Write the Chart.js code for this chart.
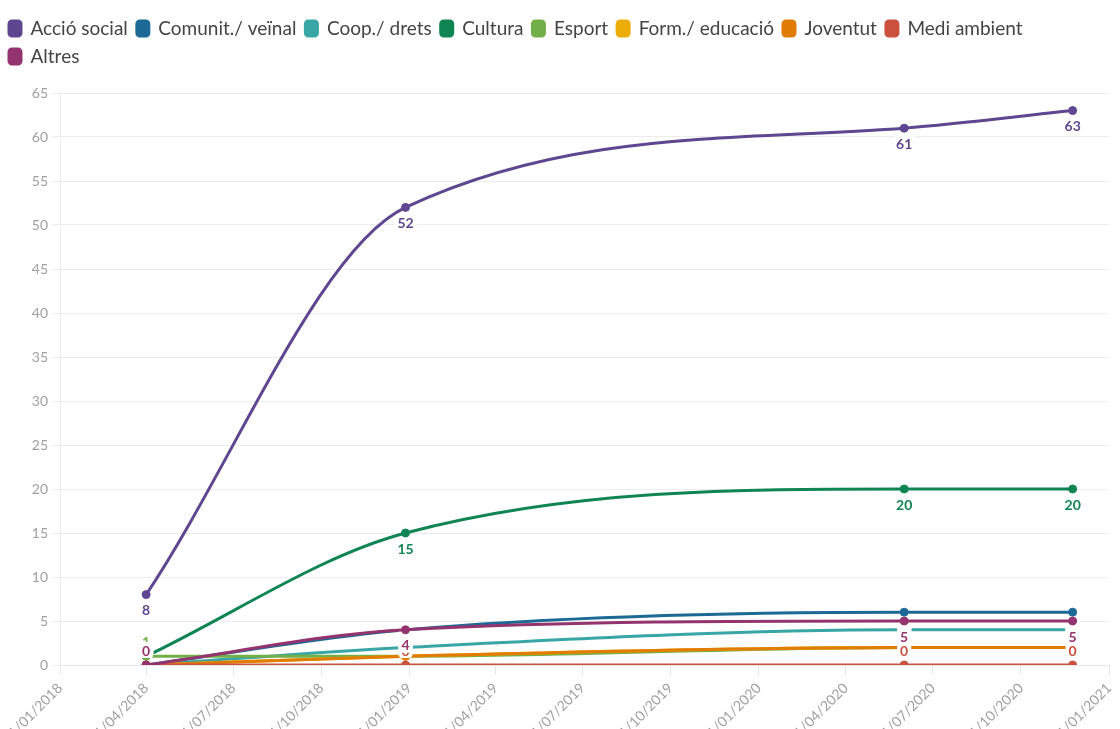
<!DOCTYPE html>
<html><head><meta charset="utf-8">
<script src="https://cdn.jsdelivr.net/npm/chart.js@4.4.1/dist/chart.umd.min.js"></script>
<style>html,body{margin:0;padding:0;background:#fff;overflow:hidden}#wrap{width:1120px;height:729px}</style>
</head><body><div id="wrap"><canvas id="c" width="1120" height="729"></canvas></div>
<script>
const dates = ['2018-04-01', '2018-12-28', '2020-06-01', '2020-11-24'];
const seriesNames = ['Acció social', 'Comunit./ veïnal', 'Coop./ drets', 'Cultura', 'Esport', 'Form./ educació', 'Joventut', 'Medi ambient', 'Altres'];
const accioSocial = [8, 52, 61, 63];
const comunitVeinal = [0, 4, 6, 6];
const coopDrets = [0, 2, 4, 4];
const cultura = [1, 15, 20, 20];
const esport = [1, 1, 2, 2];
const formEducacio = [0, 1, 2, 2];
const joventut = [0, 1, 2, 2];
const mediAmbient = [0, 0, 0, 0];
const altres = [0, 4, 5, 5];
const seriesValues = [accioSocial, comunitVeinal, coopDrets, cultura, esport, formEducacio, joventut, mediAmbient, altres];
const colors = ['#5F4690', '#1D6996', '#38A6A5', '#0F8554', '#73AF48', '#EDAD08', '#E17C05', '#CC503E', '#94346E'];
const tickDates = ['2018-01-01','2018-04-01','2018-07-01','2018-10-01','2019-01-01','2019-04-01','2019-07-01','2019-10-01','2020-01-01','2020-04-01','2020-07-01','2020-10-01','2021-01-01'];
const tickLabels = ['01/01/2018','01/04/2018','01/07/2018','01/10/2018','01/01/2019','01/04/2019','01/07/2019','01/10/2019','01/01/2020','01/04/2020','01/07/2020','01/10/2020','01/01/2021'];
const yMin = 0, yMax = 65, yStep = 5;

Chart.defaults.font.family = 'Lato, "Open Sans", sans-serif';

const datasets = seriesNames.map((name, i) => ({
  label: name,
  data: seriesValues[i].map((v, j) => ({ x: Date.parse(dates[j]), y: v })),
  borderColor: colors[i],
  backgroundColor: colors[i],
  pointBackgroundColor: colors[i],
  pointBorderColor: colors[i],
  borderWidth: 3,
  pointRadius: 4,
  pointBorderWidth: 1,
  cubicInterpolationMode: 'monotone',
  order: -i
}));

const legendSpacer = {
  id: 'legendSpacer',
  beforeInit(chart) {
    const orig = chart.legend.fit;
    chart.legend.fit = function () { orig.call(this); this.height += 17; };
  }
};

function rr(ctx, x, y, w, h, r) {
  ctx.beginPath();
  ctx.moveTo(x + r, y);
  ctx.lineTo(x + w - r, y); ctx.quadraticCurveTo(x + w, y, x + w, y + r);
  ctx.lineTo(x + w, y + h - r); ctx.quadraticCurveTo(x + w, y + h, x + w - r, y + h);
  ctx.lineTo(x + r, y + h); ctx.quadraticCurveTo(x, y + h, x, y + h - r);
  ctx.lineTo(x, y + r); ctx.quadraticCurveTo(x, y, x + r, y);
  ctx.closePath();
}

// labels drawn right after each series (line + points), so later series cover earlier ones
const pointLabels = {
  id: 'pointLabels',
  afterDatasetDraw(chart, args) {
    const ctx = chart.ctx, area = chart.chartArea;
    const ds = chart.data.datasets[args.index];
    ctx.save();
    ctx.font = 'bold 14px Lato, sans-serif';
    ctx.textAlign = 'center';
    ctx.textBaseline = 'middle';
    args.meta.data.forEach((pt, j) => {
      const txt = String(ds.data[j].y);
      const w = ctx.measureText(txt).width + 6, h = 16;
      let cy = pt.y + 15;
      if (cy + h / 2 > area.bottom) cy = pt.y - 15;
      ctx.fillStyle = '#ffffff';
      rr(ctx, pt.x - w / 2, cy - h / 2, w, h, 4);
      ctx.fill();
      ctx.fillStyle = ds.borderColor;
      ctx.fillText(txt, pt.x, cy + 1);
    });
    ctx.restore();
  }
};

new Chart(document.getElementById('c'), {
  type: 'line',
  data: { datasets },
  plugins: [legendSpacer, pointLabels],
  options: {
    responsive: false,
    animation: false,
    layout: { padding: { top: 10, right: 11, left: 0, bottom: 0 } },
    plugins: {
      legend: {
        position: 'top',
        align: 'start',
        labels: {
          boxWidth: 12, boxHeight: 15, padding: 9,
          useBorderRadius: true, borderRadius: 3,
          color: '#444', font: { size: 19 },
          sort: (a, b) => a.datasetIndex - b.datasetIndex
        }
      },
      tooltip: { enabled: false }
    },
    scales: {
      x: {
        type: 'linear',
        min: Date.parse(tickDates[0]),
        max: Date.parse(tickDates[tickDates.length - 1]),
        afterBuildTicks: s => { s.ticks = tickDates.map(d => ({ value: Date.parse(d) })); },
        afterFit: s => { s.height = 64; s.paddingLeft = 0; s.paddingRight = 0; },
        ticks: { autoSkip: false, minRotation: 45, maxRotation: 45, color: '#a0a0a0', font: { size: 14 }, padding: 5,
                 callback: (v, i) => tickLabels[i] },
        grid: { drawOnChartArea: false, drawTicks: true, tickLength: 10, color: '#e6e6e6' },
        border: { display: true, color: '#e6e6e6' }
      },
      y: {
        min: yMin, max: yMax,
        afterFit: s => { s.width = 60; },
        ticks: { stepSize: yStep, color: '#a0a0a0', font: { size: 14 }, padding: 4 },
        grid: { color: '#ececec', tickLength: 8 },
        border: { display: true, color: '#ececec' }
      }
    }
  }
});
</script>
</body></html>
